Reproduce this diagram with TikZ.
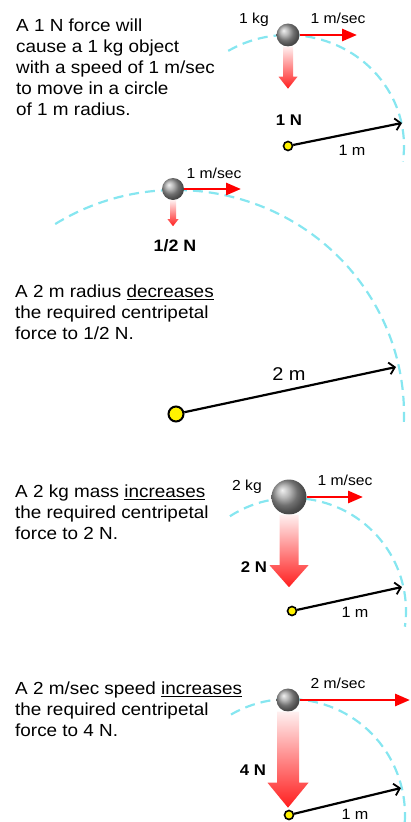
\documentclass[tikz,border=0pt]{standalone}
\usepackage{fontspec}
\setmainfont{Liberation Sans}[FakeStretch=1.08]
\usepackage{xcolor}
\usepackage{tikz}
\usetikzlibrary{arrows.meta, calc, shadings}

\definecolor{orbitcyan}{HTML}{86E6F0}
\definecolor{pullred}{HTML}{FF1E1E}

\begin{document}
\begin{tikzpicture}[
    x=1pt, y=1pt,
    every node/.style={inner sep=0pt},
    note/.style={anchor=north west, align=left, font=\fontsize{17.5}{21}\selectfont},
    lbl/.style={anchor=base, font=\fontsize{14.5}{16}\selectfont},
    flbl/.style={anchor=base, font=\fontsize{15.5}{17}\selectfont\bfseries},
    ball/.style={circle, ball color=gray!75, draw=none},
    pivot/.style={circle, draw=black, fill=yellow, line width=1.6pt, minimum size=9pt},
    orbit/.style={draw=orbitcyan, line width=2.2pt, dash pattern=on 10pt off 6pt},
    speed/.style={-{Triangle[length=15pt,width=12pt]}, draw=red, line width=2.8pt},
    radius/.style={-{Straight Barb[length=5.5pt,width=12pt,line width=1.8pt]}, line width=2.2pt},
    pull/.style={top color=red!6, bottom color=pullred, draw=none}
]
\useasboundingbox (0,0) rectangle (410,-822);
\clip (0,0) rectangle (410,-822);

% 1 N, 1 kg, 1 m/sec, 1 m
\node[note] (txt1) at (16,-19) {A 1 N force will\\cause a 1 kg object\\with a speed of 1 m/sec\\to move in a circle\\of 1 m radius.};
\node[pivot] (piv1) at (288,-146) {};
\draw[orbit] ($(piv1)+(121:116 and 111)$) arc[start angle=121, end angle=-8, x radius=116, y radius=111];
\node[ball, minimum size=23pt] (ball1) at (288,-35) {};
\coordinate (v1) at (357,-35);
\coordinate (r1) at (402,-123);
\draw[speed] (ball1.east) -- (v1);
\shade[pull] (ball1.south) ++(-5,0) -- ++(10,0) -- ++(0,-30) -- ++(4.5,0) -- ++(-9.5,-12) -- ++(-9.5,12) -- ++(4.5,0) -- cycle;
\draw[radius] (piv1) -- (r1);
\node[lbl] (kg1) at (254,-23) {1 kg};
\node[lbl] (sp1) at (338,-23) {1 m/sec};
\node[flbl] (f1) at (289,-125) {1 N};
\node[lbl, font=\fontsize{15}{17}\selectfont] (m1) at (352,-155) {1 m};

% 2 m radius
\node[pivot, minimum size=15pt, line width=2pt] (piv2) at (176,-414) {};
\draw[orbit] ($(piv2)+(122:228 and 224)$) arc[start angle=122, end angle=-3, x radius=228, y radius=224];
\node[ball, minimum size=22pt] (ball2) at (173,-189) {};
\coordinate (v2) at (241,-189);
\coordinate (r2) at (396,-367);
\draw[speed] (ball2.east) -- (v2);
\shade[pull] (ball2.south) ++(-3,0) -- ++(6,0) -- ++(0,-19) -- ++(2.5,0) -- ++(-5.5,-7) -- ++(-5.5,7) -- ++(2.5,0) -- cycle;
\draw[radius] (piv2) -- (r2);
\node[lbl] (sp2) at (214,-178) {1 m/sec};
\node[flbl, font=\fontsize{16.5}{18}\selectfont\bfseries] (f2) at (175,-251) {1/2 N};
\node[lbl, font=\fontsize{18.5}{20}\selectfont] (m2) at (289,-380) {2 m};
\node[note] (txt2) at (15,-285) {A 2 m radius \underline{decreases}\\the required centripetal\\force to 1/2 N.};

% 2 kg mass
\node[note] (txt3) at (15,-485) {A 2 kg mass \underline{increases}\\the required centripetal\\force to 2 N.};
\node[pivot] (piv3) at (292,-611) {};
\draw[orbit] ($(piv3)+(123:114 and 113)$) arc[start angle=123, end angle=-8, x radius=114, y radius=113];
\node[ball, minimum size=35pt] (ball3) at (289,-497) {};
\coordinate (v3) at (363,-497);
\coordinate (r3) at (402,-587);
\draw[speed] (ball3.east) -- (v3);
\shade[pull] (ball3.south) ++(-9.5,0) -- ++(19,0) -- ++(0,-50.5) -- ++(10,0) -- ++(-19.5,-22) -- ++(-19.5,22) -- ++(10,0) -- cycle;
\draw[radius] (piv3) -- (r3);
\node[lbl] (kg3) at (247,-490) {2 kg};
\node[lbl] (sp3) at (345,-485) {1 m/sec};
\node[flbl] (f3) at (254,-572) {2 N};
\node[lbl, font=\fontsize{15}{17}\selectfont] (m3) at (355,-617) {1 m};

% 2 m/sec speed
\node[note] (txt4) at (15,-682) {A 2 m/sec speed \underline{increases}\\the required centripetal\\force to 4 N.};
\node[pivot] (piv4) at (289,-815) {};
\draw[orbit] ($(piv4)+(120:116 and 116)$) arc[start angle=120, end angle=-8, x radius=116, y radius=116];
\node[ball, minimum size=23pt] (ball4) at (288,-700) {};
\coordinate (v4) at (410,-700);
\coordinate (r4) at (401,-788);
\draw[speed] (ball4.east) -- (v4);
\shade[pull] (ball4.south) ++(-11,0) -- ++(22,0) -- ++(0,-71) -- ++(9.5,0) -- ++(-20.5,-25) -- ++(-20.5,25) -- ++(9.5,0) -- cycle;
\draw[radius] (piv4) -- (r4);
\node[lbl] (sp4) at (338,-688) {2 m/sec};
\node[flbl] (f4) at (253,-775) {4 N};
\node[lbl, font=\fontsize{15}{17}\selectfont] (m4) at (355,-819) {1 m};
\end{tikzpicture}
\end{document}
